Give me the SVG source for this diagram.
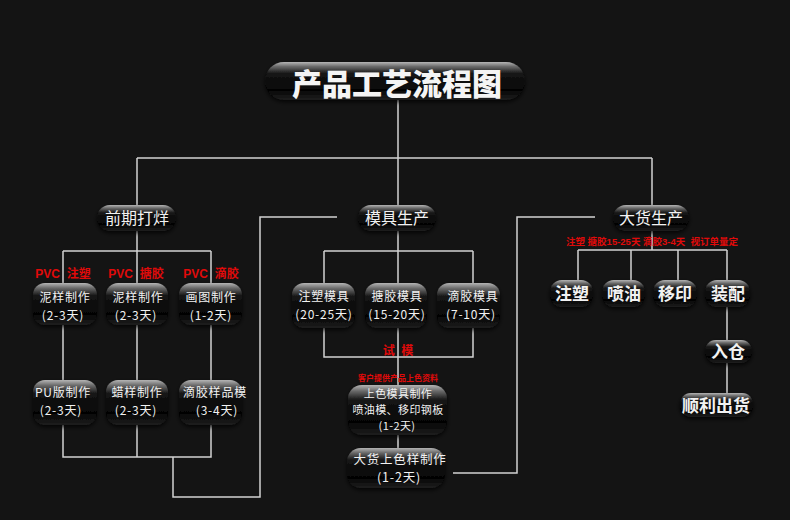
<svg xmlns="http://www.w3.org/2000/svg" width="790" height="520" viewBox="0 0 790 520">
<defs>
<linearGradient id="pill" x1="0" y1="0" x2="0" y2="1">
<stop offset="0" stop-color="#b5b5b5"/>
<stop offset="0.12" stop-color="#6a6a6a"/>
<stop offset="0.3" stop-color="#151515"/>
<stop offset="0.75" stop-color="#050505"/>
<stop offset="1" stop-color="#1e1e1e"/>
</linearGradient>
<filter id="sh" x="-20%" y="-30%" width="140%" height="160%">
<feDropShadow dx="0" dy="2" stdDeviation="2" flood-color="#000" flood-opacity="0.8"/>
</filter>
</defs>
<style>
.bg{fill:#141414}
.ln{fill:none;stroke:#d2d2d2;stroke-width:1.5}
.p{fill:url(#pill);filter:url(#sh)}
.t{font-family:"Noto Sans CJK SC","Liberation Sans",sans-serif;fill:#f2f2f2;text-anchor:middle;font-size:12px;letter-spacing:0.8px}
.h{font-size:16px;letter-spacing:0}
.b{font-size:17px;font-weight:bold;letter-spacing:0}
.r{font-family:"Liberation Sans","Noto Sans CJK SC",sans-serif;fill:#e00a0a;font-weight:bold;font-size:12px;text-anchor:middle}
.title{font-family:"Noto Sans CJK SC",serif;font-weight:900;font-size:30px;fill:#f4f4f4;text-anchor:middle}
</style>
<rect class="bg" width="790" height="520"/>
<g id="connectors">
<path class="ln" d="M398,100 V158 M137,158 H652 M137,158 V205 M398,158 V205 M652,158 V205"/>
<path class="ln" d="M137,230 V251 M63,251 H211 M63,251 V283 M137,251 V283 M211,251 V283"/>
<path class="ln" d="M63,325 V380 M137,325 V380 M211,325 V380"/>
<path class="ln" d="M63,425 V457 H211 V425 M137,425 V457 M173,457 V497 H260 V217 H337"/>
<path class="ln" d="M398,230 V448 M324,251 H473 M324,251 V283 M473,251 V283 M324,328 V357 H473 V328"/>
<path class="ln" d="M453,473 H517 V217 H595"/>
<path class="ln" d="M652,230 V250 M578,250 H727 M578,250 V280 M631,250 V280 M678,250 V280 M727,250 V280 M727,307 V340 M727,363 V393"/>
</g>
<g id="title"><rect class="p" x="265" y="62" width="260" height="38" rx="19"/><text class="title" x="397" y="95">产品工艺流程图</text></g>
<g id="n-qianqi"><rect class="p" x="97" y="205" width="79" height="26" rx="13"/><text class="t h" x="137" y="224">前期打烊</text></g>
<g id="n-muju"><rect class="p" x="358" y="205" width="78" height="26" rx="13"/><text class="t h" x="397" y="224">模具生产</text></g>
<g id="n-dahuo"><rect class="p" x="613" y="205" width="76" height="26" rx="13"/><text class="t h" x="651" y="224">大货生产</text></g>
<g id="labels-red">
<text class="r" x="63" y="278" xml:space="preserve">PVC  注塑</text>
<text class="r" x="136" y="278" xml:space="preserve">PVC  搪胶</text>
<text class="r" x="211" y="278" xml:space="preserve">PVC  滴胶</text>
<text class="r" x="398" y="355" xml:space="preserve">试  模</text>
<text class="r" x="398" y="381" style="font-size:8px">客户提供产品上色资料</text>
<text class="r" x="652" y="245" style="font-size:9.5px" xml:space="preserve">注塑 搪胶15-25天 滴胶3-4天  视订单量定</text>
</g>
<g id="n-niyang1"><rect class="p" x="33" y="283" width="64" height="42" rx="12"/><text class="t" x="65" y="302">泥样制作<tspan x="63" y="320">(2-3天)</tspan></text></g>
<g id="n-niyang2"><rect class="p" x="106" y="283" width="62" height="42" rx="12"/><text class="t" x="138" y="302">泥样制作<tspan x="136" y="320">(2-3天)</tspan></text></g>
<g id="n-huatu"><rect class="p" x="179" y="283" width="63" height="42" rx="12"/><text class="t" x="211" y="302">画图制作<tspan x="211" y="320">(1-2天)</tspan></text></g>
<g id="n-pu"><rect class="p" x="33" y="380" width="64" height="45" rx="12"/><text class="t" x="63" y="397">PU版制作<tspan x="61" y="415">(2-3天)</tspan></text></g>
<g id="n-layang"><rect class="p" x="106" y="380" width="62" height="45" rx="12"/><text class="t" x="137" y="397">蜡样制作<tspan x="136" y="415">(2-3天)</tspan></text></g>
<g id="n-dijiao"><rect class="p" x="179" y="380" width="63" height="45" rx="12"/><text class="t" x="215" y="397">滴胶样品模<tspan x="217" y="415">(3-4天)</tspan></text></g>
<g id="n-zhusu-m"><rect class="p" x="292" y="283" width="63" height="45" rx="12"/><text class="t" x="324" y="301">注塑模具<tspan x="324" y="319">(20-25天)</tspan></text></g>
<g id="n-tangjiao-m"><rect class="p" x="365" y="283" width="62" height="45" rx="12"/><text class="t" x="397" y="301">搪胶模具<tspan x="397" y="319">(15-20天)</tspan></text></g>
<g id="n-dijiao-m"><rect class="p" x="437" y="283" width="63" height="45" rx="12"/><text class="t" x="473" y="301">滴胶模具<tspan x="471" y="319">(7-10天)</tspan></text></g>
<g id="n-shangse"><rect class="p" x="348" y="385" width="99" height="50" rx="14"/><text class="t" x="398" y="398" style="font-size:11px;letter-spacing:0.4px">上色模具制作<tspan x="398" y="414">喷油模、移印钢板</tspan><tspan x="397" y="430">(1-2天)</tspan></text></g>
<g id="n-dahuoshangse"><rect class="p" x="347" y="448" width="98" height="40" rx="14"/><text class="t" x="400" y="464" style="font-size:12.5px">大货上色样制作<tspan x="399" y="482">(1-2天)</tspan></text></g>
<g id="n-zhusu"><rect class="p" x="550" y="280" width="43" height="27" rx="12"/><text class="t b" x="572" y="300">注塑</text></g>
<g id="n-penyou"><rect class="p" x="602" y="280" width="43" height="27" rx="12"/><text class="t b" x="624" y="300">喷油</text></g>
<g id="n-yiyin"><rect class="p" x="653" y="280" width="44" height="27" rx="12"/><text class="t b" x="675" y="300">移印</text></g>
<g id="n-zhuangpei"><rect class="p" x="705" y="280" width="45" height="27" rx="12"/><text class="t b" x="728" y="300">装配</text></g>
<g id="n-rucang"><rect class="p" x="705" y="340" width="47" height="23" rx="11"/><text class="t b" x="728" y="358">入仓</text></g>
<g id="n-shunli"><rect class="p" x="680" y="393" width="73" height="24" rx="11"/><text class="t b" x="716" y="412">顺利出货</text></g>
</svg>
